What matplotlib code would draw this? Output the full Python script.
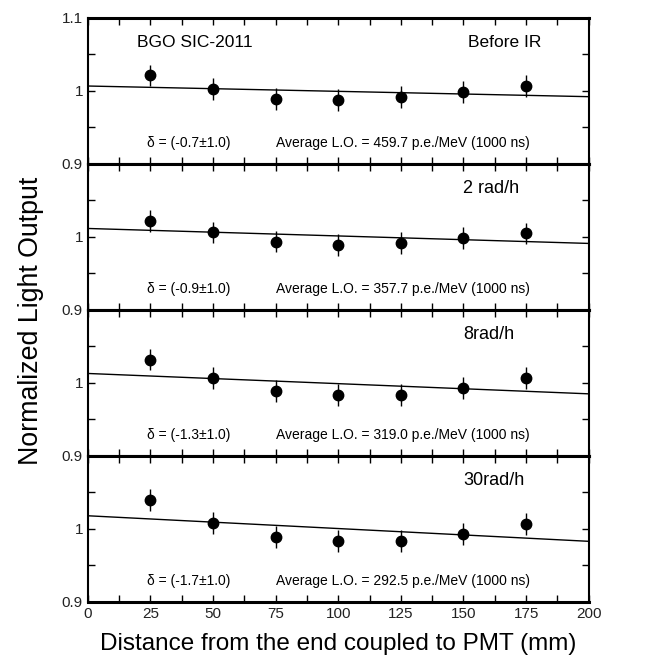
import numpy as np
import matplotlib
matplotlib.use('Agg')
import matplotlib.pyplot as plt
from matplotlib.ticker import MultipleLocator

plt.rcParams['font.family'] = ['Liberation Sans', 'DejaVu Sans']

# data
distance = [25, 50, 75, 100, 125, 150, 175]
lo_before = [1.021, 1.002, 0.989, 0.987, 0.9915, 0.998, 1.006]
lo_2rad = [1.022, 1.006, 0.9936, 0.9885, 0.991, 0.998, 1.0046]
lo_8rad = [1.032, 1.0064, 0.989, 0.983, 0.984, 0.9936, 1.0064]
lo_30rad = [1.039, 1.008, 0.989, 0.983, 0.984, 0.9936, 1.007]
lo_err = 0.015

# linear fit lines: value at 0 mm and at 200 mm
fit_start = [1.0066, 1.0115, 1.0129, 1.018]
fit_end = [0.992, 0.991, 0.985, 0.983]

panel_labels = ['Before IR', '2 rad/h', '8rad/h', '30rad/h']
deltas = ['(-0.7\u00b11.0)', '(-0.9\u00b11.0)', '(-1.3\u00b11.0)', '(-1.7\u00b11.0)']
avg_lo = ['459.7', '357.7', '319.0', '292.5']

series = [lo_before, lo_2rad, lo_8rad, lo_30rad]

fig = plt.figure(figsize=(6.6, 6.6), dpi=100)
gs = fig.add_gridspec(4, 1, left=0.133, right=0.892, top=0.973, bottom=0.088, hspace=0)

for i in range(4):
    ax = fig.add_subplot(gs[i])
    ax.errorbar(distance, series[i], yerr=lo_err, fmt='o', color='black',
                markersize=7.5, elinewidth=1, capsize=0)
    ax.plot([0, 200], [fit_start[i], fit_end[i]], color='black', lw=1)
    ax.set_xlim(0, 200)
    ax.set_ylim(0.9, 1.1)
    ax.xaxis.set_major_locator(MultipleLocator(25))
    ax.xaxis.set_minor_locator(MultipleLocator(12.5))
    ax.set_yticks([0.9, 0.95, 1.0, 1.05, 1.1])
    if i == 0:
        ax.set_yticklabels(['0.9', '', '1', '', '1.1'])
    else:
        ax.set_yticklabels(['0.9', '', '1', '', ''])
    ax.tick_params(which='both', direction='in', top=True, right=True,
                   length=5, width=1, labelsize=11, labelcolor='#222222')
    if i < 3:
        ax.tick_params(axis='x', labelbottom=False)
    for s in ['top', 'bottom']:
        ax.spines[s].set_linewidth(2.2)
    for s in ['left', 'right']:
        ax.spines[s].set_linewidth(1.5)

    if i == 0:
        ax.text(19.5, 1.066, 'BGO SIC-2011', fontsize=12.5, va='center')
        ax.text(181, 1.066, panel_labels[i], fontsize=12.5, ha='right', va='center')
    else:
        ax.text(150, 1.066, panel_labels[i], fontsize=13, va='center')
    ax.text(23.5, 0.929, '\u03b4 = ' + deltas[i], fontsize=10, va='center')
    ax.text(75, 0.929, 'Average L.O. = ' + avg_lo[i] + ' p.e./MeV (1000 ns)',
            fontsize=10, va='center')
    if i == 3:
        ax.set_xlabel('Distance from the end coupled to PMT (mm)', fontsize=17.5,
                      labelpad=9)

fig.text(0.047, 0.514, 'Normalized Light Output', rotation=90, fontsize=19.3,
         ha='center', va='center')

fig.savefig('out.png', dpi=100)
